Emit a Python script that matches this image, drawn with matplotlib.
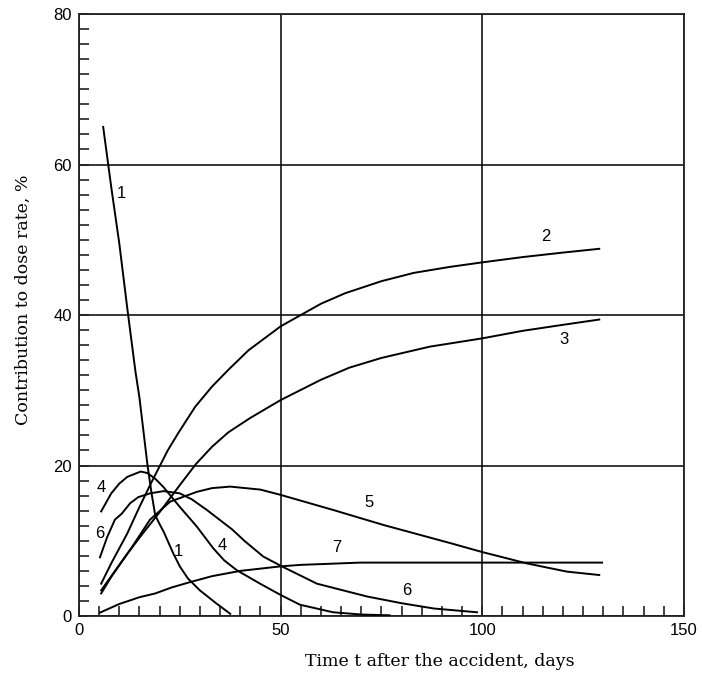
import matplotlib
matplotlib.use("Agg")
import matplotlib.pyplot as plt
from matplotlib.ticker import MultipleLocator
import numpy as np

# curve data: time (days) vs contribution (%)
t1 = [6, 8, 10, 12, 14, 15, 16, 17, 18, 18.9, 20, 21, 23.4, 25, 27, 30, 34, 37.5]
y1 = [65, 57, 49.5, 40.8, 32.5, 29, 24.5, 20, 16.3, 13.4, 12.2, 11.2, 8.3, 6.6, 5.0, 3.4, 1.7, 0.3]

t2 = [5.5, 8, 10, 12, 15, 18, 20, 22, 24.6, 28.8, 33, 37, 42, 50, 55, 60, 66, 75, 83, 92, 100, 110, 120, 129]
y2 = [4.3, 7, 9, 11, 14.5, 17.8, 19.9, 22, 24.3, 27.8, 30.5, 32.7, 35.3, 38.5, 40, 41.5, 42.9, 44.5, 45.6,
      46.4, 47.0, 47.7, 48.3, 48.8]

t3 = [5.5, 8, 12, 16, 20, 25, 29, 33, 37, 42.4, 50, 60, 67, 75, 87, 100, 110, 120, 129]
y3 = [3.4, 5.3, 8.3, 11.1, 13.8, 17.4, 20.2, 22.5, 24.4, 26.3, 28.7, 31.4, 33.0, 34.3, 35.8, 36.9, 37.9,
      38.7, 39.4]

t4 = [5.5, 8, 10, 12, 15.3, 17, 19, 21, 25, 29.2, 33.3, 36, 39.1, 44.9, 50, 54.8, 63, 70, 77]
y4 = [13.9, 16.3, 17.6, 18.5, 19.2, 19.0, 18.2, 17.1, 14.5, 11.9, 9.0, 7.4, 6.1, 4.3, 2.8, 1.5, 0.5, 0.2, 0.1]

t5 = [5.5, 8, 12.7, 17.6, 22.6, 29.2, 33, 37.5, 45, 50, 63, 75.5, 92, 100, 111, 121, 129]
y5 = [3.0, 5.2, 8.8, 12.8, 15.2, 16.5, 17.0, 17.2, 16.8, 16.1, 14.1, 12.1, 9.7, 8.5, 7.0, 5.9, 5.45]

t6 = [5.2, 7, 8.9, 10.6, 12.7, 14.7, 17.6, 21, 25, 28, 31.7, 38, 41, 45.7, 50.3, 59, 71.4, 80, 88, 98.7]
y6 = [7.8, 10.5, 12.8, 13.6, 15.0, 15.8, 16.3, 16.6, 16.3, 15.5, 14.1, 11.5, 10.0, 7.9, 6.6, 4.3, 2.6, 1.7, 1.0, 0.5]

t7 = [5.2, 10, 15, 18.9, 23, 27.5, 33, 40, 45, 50, 55, 60, 69.7, 80, 100, 129.7]
y7 = [0.45, 1.6, 2.5, 3.0, 3.8, 4.5, 5.3, 6.0, 6.3, 6.6, 6.8, 6.9, 7.1, 7.1, 7.1, 7.1]

# curve number labels
lab_text = ["1", "2", "3", "5", "7", "6", "4", "6", "1", "4"]
lab_x = [10.6, 115.8, 120.2, 72, 63.8, 81.3, 5.6, 5.2, 24.6, 35.6]
lab_y = [56.2, 50.4, 36.7, 15.1, 9.1, 3.4, 17.1, 11.0, 8.6, 9.4]

fig = plt.figure(figsize=(7.02, 6.81), dpi=100)
ax = fig.add_axes([0.1125, 0.0954, 0.8618, 0.884])

for t, y in [(t1, y1), (t2, y2), (t3, y3), (t4, y4), (t5, y5), (t6, y6), (t7, y7)]:
    ax.plot(t, y, color="black", lw=1.4, zorder=3)

for s, x, y in zip(lab_text, lab_x, lab_y):
    ax.text(x, y, s, ha="center", va="center", fontsize=12, family="Liberation Sans", zorder=4)

ax.set_xlim(0, 150)
ax.set_ylim(0, 80)
ax.xaxis.set_major_locator(MultipleLocator(50))
ax.xaxis.set_minor_locator(MultipleLocator(5))
ax.yaxis.set_major_locator(MultipleLocator(20))
ax.yaxis.set_minor_locator(MultipleLocator(2))
ax.tick_params(which="both", direction="in", length=7, width=1.2, color="#222222",
               top=False, right=False, labelsize=12, pad=5)
for lbl in ax.get_xticklabels() + ax.get_yticklabels():
    lbl.set_family("Liberation Sans")

ax.grid(True, which="major", color="black", lw=1.1, zorder=1)
for sp in ax.spines.values():
    sp.set_color("#222222")
    sp.set_linewidth(1.3)

ax.set_xlabel("Time t after the accident, days", family="DejaVu Serif", fontsize=12.5)
ax.xaxis.set_label_coords(0.597, -0.061)
ax.set_ylabel("Contribution to dose rate, %", family="DejaVu Serif", fontsize=12.5, va="center")
ax.yaxis.set_label_coords(-0.0926, 0.525)

fig.savefig("out.png", dpi=100)
